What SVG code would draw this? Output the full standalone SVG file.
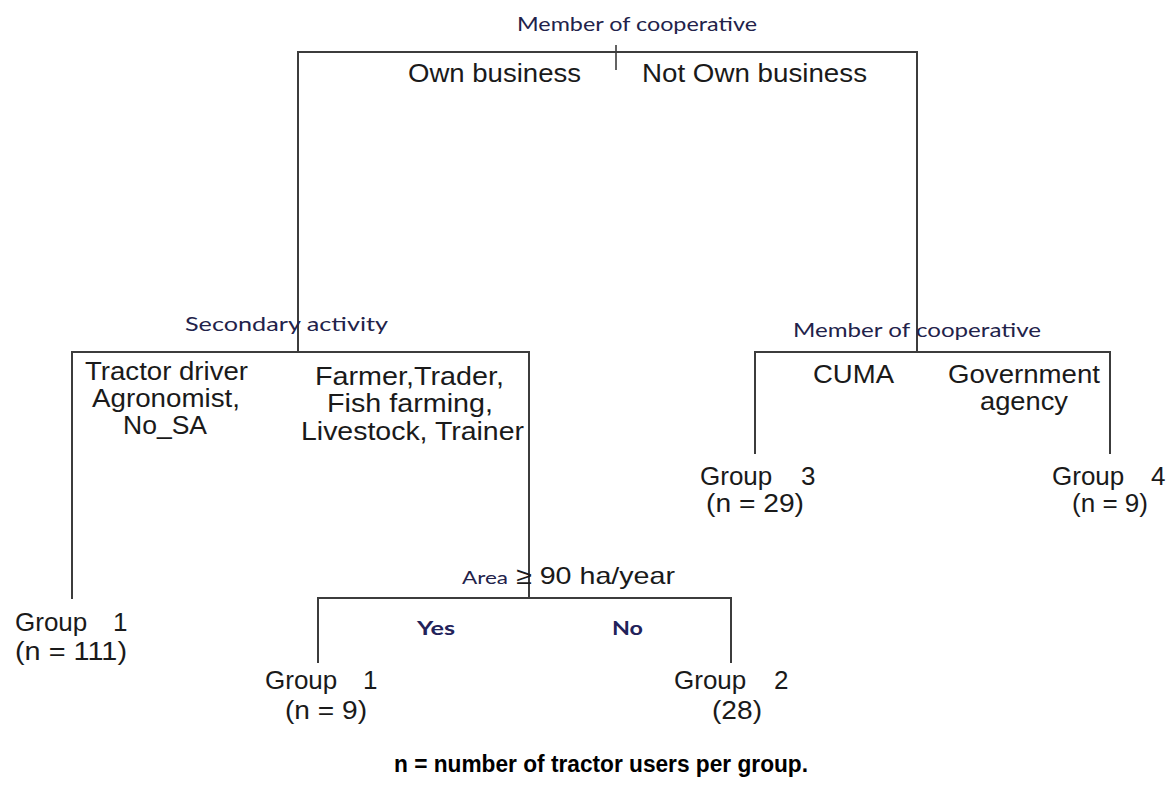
<svg xmlns="http://www.w3.org/2000/svg" width="1171" height="785" viewBox="0 0 1171 785">
<style>
.bg{fill:#ffffff}
.ln{stroke:#3c3c3c;stroke-width:2;fill:none;stroke-linecap:square}
.tk{stroke:#3c3c3c;stroke-width:1.6;fill:none}
.t{font-family:"Liberation Sans",Arial,sans-serif;font-size:26px;fill:#1a1a1a}
.m{font-family:"Liberation Sans",Arial,sans-serif;font-size:25px;fill:#1a1a1a}
.c{font-family:Lato,"Open Sans",sans-serif;font-size:19px;fill:#22224a}
.yn{font-family:Lato,"Open Sans",sans-serif;font-size:18px;font-weight:bold;fill:#22225a}
.ft{font-family:"Liberation Sans",Arial,sans-serif;font-size:23px;font-weight:bold;fill:#000}
</style>
<rect class="bg" x="0" y="0" width="1171" height="785"/>
<g id="connectors">
<path class="ln" d="M298,52 H917 M298,52 V352 M917,52 V352"/>
<path class="tk" d="M616,45 V70"/>
<path class="ln" d="M72,352 H529 M72,352 V598 M529,352 V598"/>
<path class="ln" d="M318,598 H731 M318,598 V662 M731,598 V662"/>
<path class="ln" d="M755,352 H1110 M755,352 V453 M1110,352 V453"/>
</g>
<g id="root">
<text class="c" x="517" y="31" textLength="240" lengthAdjust="spacingAndGlyphs">Member of cooperative</text>
<text class="t" x="408" y="82" textLength="173" lengthAdjust="spacingAndGlyphs">Own business</text>
<text class="t" x="642" y="82" textLength="225" lengthAdjust="spacingAndGlyphs">Not Own business</text>
</g>
<g id="split-secondary">
<text class="c" x="185" y="331" textLength="203" lengthAdjust="spacingAndGlyphs">Secondary activity</text>
<text class="m" x="85" y="380" textLength="163" lengthAdjust="spacingAndGlyphs">Tractor driver</text>
<text class="m" x="92" y="407" textLength="148" lengthAdjust="spacingAndGlyphs">Agronomist,</text>
<text class="m" x="123" y="434" textLength="84" lengthAdjust="spacingAndGlyphs">No_SA</text>
<text class="m" x="315" y="385" textLength="189" lengthAdjust="spacingAndGlyphs">Farmer,Trader,</text>
<text class="m" x="327" y="412" textLength="166" lengthAdjust="spacingAndGlyphs">Fish farming,</text>
<text class="m" x="301" y="440" textLength="223" lengthAdjust="spacingAndGlyphs">Livestock, Trainer</text>
</g>
<g id="split-cooperative">
<text class="c" x="793" y="337" textLength="248" lengthAdjust="spacingAndGlyphs">Member of cooperative</text>
<text class="m" x="813" y="383" textLength="81" lengthAdjust="spacingAndGlyphs">CUMA</text>
<text class="m" x="948" y="383" textLength="152" lengthAdjust="spacingAndGlyphs">Government</text>
<text class="m" x="980" y="410" textLength="88" lengthAdjust="spacingAndGlyphs">agency</text>
</g>
<g id="split-area">
<text x="462" y="584"><tspan class="c" style="font-size:17px" textLength="46" lengthAdjust="spacingAndGlyphs">Area</tspan><tspan class="t" x="516" style="font-size:24px" textLength="159" lengthAdjust="spacingAndGlyphs">≥ 90 ha/year</tspan></text>
<text class="yn" x="417" y="635" textLength="38" lengthAdjust="spacingAndGlyphs">Yes</text>
<text class="yn" x="612" y="635" textLength="31" lengthAdjust="spacingAndGlyphs">No</text>
</g>
<g id="group1-left">
<text class="t" x="15" y="631">Group<tspan x="113">1</tspan></text>
<text class="t" x="15" y="660" textLength="112" lengthAdjust="spacingAndGlyphs">(n = 111)</text>
</g>
<g id="group1-mid">
<text class="t" x="265" y="689">Group<tspan x="363">1</tspan></text>
<text class="t" x="285" y="719" textLength="82" lengthAdjust="spacingAndGlyphs">(n = 9)</text>
</g>
<g id="group2">
<text class="t" x="674" y="689">Group<tspan x="774">2</tspan></text>
<text class="t" x="712" y="719" textLength="50" lengthAdjust="spacingAndGlyphs">(28)</text>
</g>
<g id="group3">
<text class="t" x="700" y="485">Group<tspan x="801">3</tspan></text>
<text class="t" x="706" y="512" textLength="98" lengthAdjust="spacingAndGlyphs">(n = 29)</text>
</g>
<g id="group4">
<text class="t" x="1052" y="485">Group<tspan x="1151">4</tspan></text>
<text class="t" x="1072" y="512" textLength="76" lengthAdjust="spacingAndGlyphs">(n = 9)</text>
</g>
<g id="footnote">
<text class="ft" x="394" y="772" textLength="414" lengthAdjust="spacingAndGlyphs">n = number of tractor users per group.</text>
</g>
</svg>
